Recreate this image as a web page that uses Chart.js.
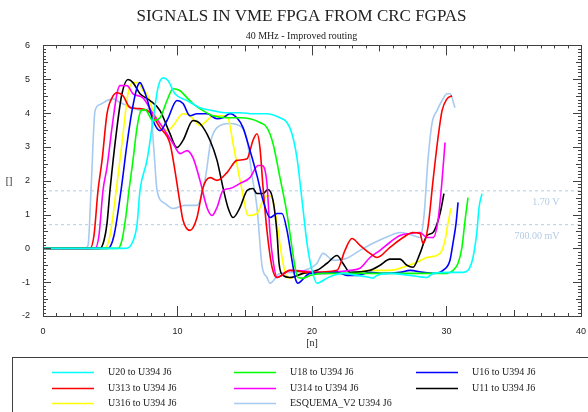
<!DOCTYPE html>
<html>
<head>
<meta charset="utf-8">
<script src="https://cdn.jsdelivr.net/npm/chart.js@4.4.1/dist/chart.umd.min.js"></script>
<style>
  html, body { margin: 0; padding: 0; background: #fff; }
  #wrap { width: 588px; height: 412px; }
</style>
</head>
<body>
<div id="wrap"><canvas id="c" width="588" height="412"></canvas></div>
<script>
// axis limits and reference levels
const X_MIN = 0, X_MAX = 40, Y_MIN = -2, Y_MAX = 6;
const REF_LEVELS = [1.7, 0.7];
const REF_LABELS = ["1.70 V", "700.00 mV"];

// traces: [time, volts]
const U20 = [[0,0],[6.10,0],[6.62,0.15],[6.99,0.7],[7.21,1.71],[7.73,2.6],[8.18,3.78],[8.55,4.75],[8.92,5.04],[9.29,4.96],[9.81,4.57],[10.71,4.37],[11.67,4.16],[12.64,4.07],[13.68,4.01],[14.65,4.01],[15.61,3.98],[16.65,3.98],[17.62,3.86],[18.14,3.72],[18.51,3.39],[18.88,2.68],[19.26,1.42],[19.63,0.15],[20.00,-0.65],[20.37,-1.03],[20.59,-1.0],[21.12,-0.88],[21.56,-0.8],[22.30,-0.74],[23.35,-0.8],[24.31,-0.86],[24.54,-0.88],[24.83,-0.8],[25.80,-0.74],[27.29,-0.8],[28.55,-0.86],[29.00,-0.74],[30.26,-0.71],[31.23,-0.71],[31.60,-0.65],[31.97,-0.27],[32.27,0.53],[32.42,1.21],[32.64,1.62]];
const U18 = [[0,0],[5.58,0],[5.87,0.24],[6.17,0.97],[6.39,1.71],[6.69,2.6],[6.99,3.57],[7.29,4.07],[7.58,4.1],[8.18,3.78],[8.70,3.86],[9.22,4.37],[9.67,4.72],[10.19,4.66],[10.71,4.45],[11.15,4.28],[11.90,4.07],[12.64,3.92],[13.68,3.86],[14.65,3.86],[15.39,3.83],[16.13,3.72],[16.65,3.57],[17.10,3.10],[17.62,2.09],[18.14,1.03],[18.51,0.03],[18.74,-0.56],[18.96,-0.86],[19.33,-0.88],[19.85,-0.8],[20.82,-0.74],[23.35,-0.74],[25.80,-0.74],[28.25,-0.74],[30.04,-0.74],[30.48,-0.65],[30.86,-0.44],[31.15,0.03],[31.38,0.83],[31.60,1.5]];
const U16 = [[0,0],[4.83,0],[5.28,0.38],[5.80,1.71],[6.25,3.10],[6.62,4.07],[6.99,4.75],[7.21,4.90],[7.43,4.75],[7.73,4.42],[8.18,3.78],[8.70,3.48],[9.22,3.78],[9.96,4.37],[10.41,4.28],[10.93,3.92],[11.45,3.98],[12.19,3.98],[12.94,3.83],[13.38,3.86],[13.90,3.98],[14.42,3.86],[14.87,3.57],[15.39,2.89],[15.91,2.15],[16.36,1.42],[16.88,0.91],[17.40,1.03],[17.77,1.03],[18.14,0.53],[18.51,-0.35],[18.74,-0.86],[18.96,-1.03],[19.26,-0.94],[19.85,-0.74],[20.82,-0.74],[21.86,-0.71],[22.60,-0.8],[23.35,-0.8],[24.31,-0.71],[25.28,-0.74],[26.54,-0.71],[27.29,-0.65],[28.25,-0.71],[29.00,-0.74],[29.74,-0.65],[30.26,-0.35],[30.48,0.15],[30.71,0.74],[30.86,1.36]];
const U313 = [[0,0],[3.49,0],[3.79,0.38],[4.09,1.71],[4.39,2.6],[4.76,3.98],[5.13,4.45],[5.50,4.6],[5.95,4.51],[6.47,4.16],[7.21,4.13],[7.96,4.01],[8.70,3.57],[9.44,3.10],[9.81,2.30],[10.19,1.33],[10.41,0.83],[10.93,0.53],[11.45,0.91],[11.90,1.80],[12.42,2.09],[12.94,2.01],[13.68,2.24],[14.42,2.6],[15.17,2.65],[15.61,3.19],[15.91,3.39],[16.13,2.98],[16.36,1.80],[16.65,0.53],[17.03,-0.56],[17.40,-0.86],[18.36,-0.65],[19.85,-0.71],[21.86,-0.65],[22.45,-0.06],[22.97,0.29],[23.57,0.09],[24.31,-0.15],[24.83,-0.27],[25.80,0.03],[26.77,0.32],[27.51,0.47],[28.03,0.44],[28.25,0.15],[28.62,0.62],[29.00,2.01],[29.37,3.27],[29.67,4.07],[30.04,4.42],[30.41,4.51]];
const U314 = [[0,0],[3.87,0],[4.16,0.38],[4.46,1.71],[4.76,2.4],[5.13,3.57],[5.50,4.57],[5.72,4.81],[6.25,4.81],[6.69,4.57],[7.43,4.45],[8.18,3.98],[8.92,3.57],[9.67,3.10],[10.19,2.80],[10.71,2.89],[11.15,2.68],[11.67,2.01],[12.19,1.21],[12.57,0.97],[12.94,1.21],[13.38,1.71],[13.90,1.77],[14.65,1.92],[15.39,2.09],[15.99,2.45],[16.28,2.45],[16.65,1.92],[16.88,0.44],[17.10,-0.35],[17.40,-0.86],[18.36,-0.65],[20.82,-0.71],[22.83,-0.65],[23.57,-0.59],[24.31,-0.27],[25.06,-0.06],[25.80,0.18],[26.54,0.38],[27.29,0.44],[28.03,0.47],[28.55,0.32],[29.00,0.32],[29.37,0.83],[29.67,2.01],[29.89,3.13]];
const U11 = [[0,0],[4.24,0],[4.54,0.24],[4.76,0.74],[4.98,1.71],[5.50,3.57],[5.87,4.57],[6.32,4.99],[6.69,4.90],[7.21,4.57],[7.96,4.37],[8.70,4.07],[9.44,3.39],[9.96,2.98],[10.41,3.19],[11.15,3.78],[11.67,3.69],[12.42,3.19],[12.94,2.6],[13.38,1.80],[13.75,1.21],[14.13,0.91],[14.65,1.21],[15.17,1.71],[15.61,1.77],[15.91,1.62],[16.36,1.62],[16.73,1.74],[17.10,1.42],[17.40,0.44],[17.55,-0.44],[17.84,-0.80],[18.36,-0.86],[19.33,-0.74],[20.37,-0.65],[21.12,-0.44],[21.86,-0.21],[22.30,-0.44],[22.83,-0.71],[24.31,-0.65],[25.06,-0.5],[25.80,-0.32],[26.54,-0.32],[27.06,-0.5],[27.51,-0.56],[28.03,-0.15],[28.55,0.38],[29.00,0.47],[29.52,1.03],[29.81,1.62]];
const U316 = [[0,0],[4.61,0],[4.98,0.38],[5.35,1.42],[5.87,3.10],[6.32,4.57],[6.69,4.90],[7.06,4.90],[7.43,4.66],[7.73,4.57],[8.18,4.07],[8.70,3.69],[9.22,3.48],[9.67,3.63],[10.41,3.98],[10.93,3.92],[11.67,3.63],[12.19,3.78],[12.64,3.92],[13.38,3.92],[13.75,3.86],[14.13,3.10],[14.80,1.71],[15.24,0.97],[15.91,1.03],[16.36,1.42],[16.73,1.56],[17.03,1.50],[17.40,0.74],[17.77,-0.27],[18.14,-0.86],[18.36,-0.88],[19.33,-0.74],[20.37,-0.71],[21.34,-0.74],[22.83,-0.74],[24.31,-0.65],[25.80,-0.65],[26.77,-0.56],[27.81,-0.41],[28.55,-0.27],[29.52,-0.15],[29.89,0.24],[30.11,0.74],[30.33,1.18]];
const ESQUEMA = [[0,0],[3.12,0],[3.35,0.09],[3.57,1.71],[3.87,4.07],[4.24,4.25],[4.76,4.37],[5.20,4.42],[5.72,4.31],[6.10,4.25],[6.84,4.13],[7.43,4.07],[7.96,4.13],[8.25,2.89],[8.48,1.71],[9.07,1.33],[9.67,1.18],[10.56,1.27],[11.45,1.27],[12.04,2.01],[12.49,3.19],[12.94,3.57],[13.90,3.69],[14.80,3.57],[15.17,3.19],[15.54,2.15],[15.91,1.21],[16.28,-0.5],[16.65,-0.86],[16.88,-1.03],[17.62,-0.74],[18.74,-0.71],[19.85,-0.59],[20.37,-0.44],[20.82,-0.15],[21.56,-0.35],[22.60,-0.29],[23.57,-0.06],[24.54,0.15],[25.65,0.35],[26.54,0.47],[27.29,0.41],[28.03,0.32],[28.33,0.97],[28.62,2.6],[28.92,3.69],[29.29,4.07],[29.67,4.37],[30.04,4.57],[30.26,4.57],[30.63,4.16]];

// legend order (row by row, three columns)
const SERIES_LABELS = ["U20 to U394 J6", "U18 to U394 J6", "U16 to U394 J6", "U313 to U394 J6", "U314 to U394 J6", "U11 to U394 J6", "U316 to U394 J6", "ESQUEMA_V2 U394 J6"];
const SERIES_DATA = [U20, U18, U16, U313, U314, U11, U316, ESQUEMA];
const SERIES_COLORS = ["#00ffff", "#00ff00", "#0000ff", "#ff0000", "#ff00ff", "#000000", "#ffff00", "#a6caf0"];

const REF_COLOR = "#b4cce6";
const AXIS_COLOR = "#404040";
const TEXT_COLOR = "#222";
const SERIF = "'Liberation Serif', 'Times New Roman', serif";
const SANS = "'Liberation Sans', Arial, sans-serif";

const datasets = SERIES_DATA.map((pts, i) => ({
  label: SERIES_LABELS[i],
  data: pts.map(([x, y]) => ({ x, y })),
  borderColor: SERIES_COLORS[i],
  backgroundColor: SERIES_COLORS[i],
  borderWidth: 1.6,
  showLine: true,
  pointRadius: 0,
  cubicInterpolationMode: "monotone",
}));

REF_LEVELS.forEach((lv) => {
  datasets.push({
    label: "ref",
    data: [{ x: X_MIN, y: lv }, { x: X_MAX, y: lv }],
    borderColor: REF_COLOR,
    borderWidth: 1,
    borderDash: [3, 3],
    showLine: true,
    pointRadius: 0,
  });
});

// frame with inward tick marks on all four sides, like the scope software
const frameTicks = {
  id: "frameTicks",
  afterDraw(chart) {
    const { ctx, chartArea: a } = chart;
    const xs = chart.scales.x, ys = chart.scales.y;
    ctx.save();
    ctx.strokeStyle = AXIS_COLOR;
    ctx.lineWidth = 1;
    ctx.strokeRect(Math.round(a.left) + 0.5, Math.round(a.top) + 0.5, Math.round(a.right - a.left), Math.round(a.bottom - a.top));
    ctx.beginPath();
    for (let i = X_MIN; i <= X_MAX; i++) {
      const px = Math.round(xs.getPixelForValue(i)) + 0.5;
      const len = i % 10 === 0 ? 10 : i % 5 === 0 ? 6 : 3;
      ctx.moveTo(px, a.bottom); ctx.lineTo(px, a.bottom - len);
      ctx.moveTo(px, a.top); ctx.lineTo(px, a.top + len);
    }
    for (let k = Y_MIN * 10; k <= Y_MAX * 10; k++) {
      const py = Math.round(ys.getPixelForValue(k / 10)) + 0.5;
      const len = k % 10 === 0 ? 8 : k % 5 === 0 ? 5 : 3;
      ctx.moveTo(a.left, py); ctx.lineTo(a.left + len, py);
      ctx.moveTo(a.right, py); ctx.lineTo(a.right - len, py);
    }
    ctx.stroke();

    // reference level captions
    ctx.font = "10px " + SERIF;
    ctx.fillStyle = REF_COLOR;
    ctx.textAlign = "right";
    ctx.textBaseline = "middle";
    REF_LEVELS.forEach((lv, i) => {
      ctx.fillText(REF_LABELS[i], xs.getPixelForValue(38.4), ys.getPixelForValue(lv) + 12);
    });

    // axis titles
    ctx.fillStyle = TEXT_COLOR;
    ctx.textAlign = "center";
    ctx.fillText("[n]", (a.left + a.right) / 2, a.bottom + 27);
    ctx.fillText("[]", 9, (a.top + a.bottom) / 2 + 1);

    // legend box, three columns
    ctx.strokeStyle = AXIS_COLOR;
    ctx.strokeRect(12.5, 357.5, 620, 80);
    const colX = [52, 234, 416];
    const rowY = [372, 388, 403];
    ctx.textAlign = "left";
    SERIES_LABELS.forEach((lab, i) => {
      const cx = colX[i % 3], cy = rowY[Math.floor(i / 3)];
      ctx.strokeStyle = SERIES_COLORS[i];
      ctx.lineWidth = 1.6;
      ctx.beginPath(); ctx.moveTo(cx, cy + 0.5); ctx.lineTo(cx + 42, cy + 0.5); ctx.stroke();
      ctx.fillStyle = TEXT_COLOR;
      ctx.fillText(lab, cx + 56, cy);
    });
    ctx.restore();
  },
};

new Chart(document.getElementById("c"), {
  type: "scatter",
  data: { datasets },
  options: {
    responsive: false,
    animation: false,
    layout: { padding: { left: 22, right: 7, top: 0, bottom: 0 } },
    plugins: {
      legend: { display: false },
      tooltip: { enabled: false },
      title: {
        display: true,
        text: "SIGNALS IN VME FPGA FROM CRC FGPAS",
        color: TEXT_COLOR,
        font: { family: SERIF, size: 17, weight: "normal" },
        padding: { top: 6, bottom: 4 },
      },
      subtitle: {
        display: true,
        text: "40 MHz - Improved routing",
        color: TEXT_COLOR,
        font: { family: SERIF, size: 10, weight: "normal" },
        padding: { top: 0, bottom: 3 },
      },
    },
    scales: {
      x: {
        type: "linear",
        min: X_MIN,
        max: X_MAX,
        afterFit: (s) => { s.height = 96; },
        grid: { display: false },
        border: { display: false },
        ticks: { stepSize: 10, color: TEXT_COLOR, padding: 2, maxRotation: 0, font: { family: SANS, size: 9 } },
      },
      y: {
        min: Y_MIN,
        max: Y_MAX,
        afterFit: (s) => { s.width = 21; },
        grid: { display: false },
        border: { display: false },
        ticks: { stepSize: 1, color: TEXT_COLOR, padding: 5, font: { family: SANS, size: 9 } },
      },
    },
  },
  plugins: [frameTicks],
});
</script>
</body>
</html>
